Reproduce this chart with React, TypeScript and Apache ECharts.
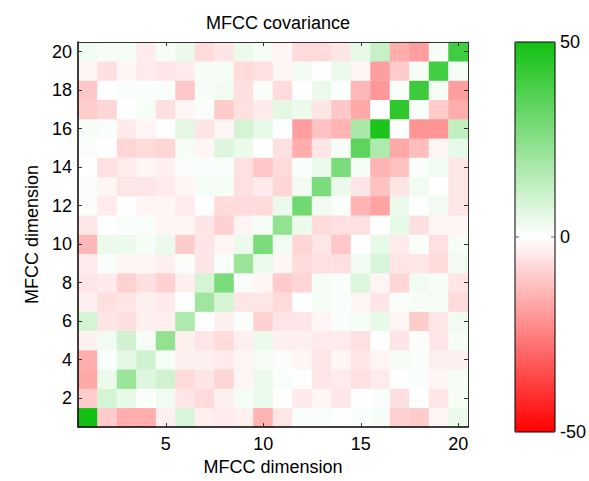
import React, { useEffect, useRef } from "react";
import * as echarts from "echarts";

// MFCC dimension labels (1..20)
const dims = Array.from({ length: 20 }, (_, i) => String(i + 1));

// Covariance rows, row k = MFCC dimension k (y), columns = dimension 1..20 (x)
const row01 = [50, -10, -16, -16, -3, 8, -3, -4, -3, -15, -5, 1, 1, 0, 1, 2, -9, -10, -2, 4];
const row02 = [-10, 9, 5, 1, 3, -5, -7, -3, 2, 4, 0, -4, -2, -5, 0, 1, -6, 0, -5, 2];
const row03 = [-17, 4, 21, 7, 10, -7, -5, -8, -2, 4, 1, 0, -5, -4, -6, -4, 0, 1, -2, 2];
const row04 = [-16, 1, 6, 10, 2, -3, -3, -4, -2, 2, 1, -2, -5, -2, -5, -2, 2, 1, -3, -3];
const row05 = [-3, 3, 10, 2, 23, -3, -5, -7, -3, 4, -3, -3, -4, -4, -6, 0, -5, 1, -5, 2];
const row06 = [9, -5, -6, -3, -3, 17, 0, -3, 1, -9, -5, -5, -2, 1, 2, 5, -2, -10, -5, 3];
const row07 = [-3, -6, -5, -3, -4, 0, 20, 9, -5, -5, -7, 0, 2, 1, -2, -5, 1, 2, 2, -7];
const row08 = [-5, -4, -9, -6, -9, -3, 9, 28, 1, -2, -10, -8, 2, 1, 7, -2, -8, 3, 2, -5];
const row09 = [-4, 1, -2, -2, -3, 1, -5, 1, 21, 4, -2, -7, -6, -6, 3, 8, -5, -5, -7, 3];
const row10 = [-14, 4, 4, 2, 4, -10, -5, -2, 4, 28, 3, -8, -5, -11, 0, 5, -4, 1, -6, 2];
const row11 = [-5, 0, 1, 1, -2, -2, -5, -9, -2, 2, 23, 4, -7, -6, -6, 0, 5, -6, -2, -2];
const row12 = [1, -4, 0, -2, -2, -4, 0, -7, -7, -7, 4, 30, 3, 1, -15, -18, 4, 0, 3, -5];
const row13 = [1, -2, -5, -5, -4, -2, 2, 2, -6, -4, -8, 3, 28, 4, -5, -12, -5, 3, 0, -5];
const row14 = [0, -6, -4, -2, -3, 1, 1, 1, -6, -11, -7, 1, 4, 28, 2, -15, -12, 1, 3, -5];
const row15 = [1, 0, -8, -7, -8, 2, -2, 7, 4, 0, -6, -16, -5, 2, 34, 17, -17, -13, -2, 5];
const row16 = [2, 1, -4, -2, 0, 6, -5, -2, 9, 5, 0, -19, -12, -15, 18, 48, 0, -21, -21, 13];
const row17 = [-10, -8, 0, 2, -6, -2, 1, -10, -6, -4, 6, 4, -5, -11, -17, 0, 44, 1, -10, -16];
const row18 = [-11, 0, 1, 1, 1, -11, 2, 3, -6, 1, -7, 0, 4, 1, -14, -20, 1, 41, 2, -19];
const row19 = [-2, -6, -2, -4, -5, -4, 2, 2, -7, -6, -2, 3, 0, 4, -2, -19, -10, 2, 40, 2];
const row20 = [3, 2, 2, -4, 2, 4, -7, -5, 4, 2, -2, -7, -7, -5, 5, 12, -16, -19, 2, 40];

const rows = [row01, row02, row03, row04, row05, row06, row07, row08, row09, row10,
  row11, row12, row13, row14, row15, row16, row17, row18, row19, row20];

const colorbarTicks = ["50", "0", "-50"];
const colorMin = -50;
const colorMax = 50;

const FONT = "'Liberation Sans', Arial, Helvetica, sans-serif";
const FS = 18;

export default function App() {
  const ref = useRef<HTMLDivElement>(null);
  useEffect(() => {
    document.body.style.margin = "0";
    const chart = echarts.init(ref.current!, undefined, { renderer: "svg" });
    const data: number[][] = [];
    rows.forEach((r, yi) => r.forEach((v, xi) => data.push([xi, yi, v])));

    const gl = 78, gt = 42, gw = 390, gh = 390;
    const cbX = 515, cbW = 40;

    const xTickInt = (i: number) => (i + 1) % 5 === 0;
    const yTickInt = (i: number) => (i + 1) % 2 === 0;

    const baseAxis = (pos: string, isX: boolean, primary: boolean) => ({
      type: "category",
      data: dims,
      position: pos,
      z: 10,
      boundaryGap: true,
      axisLine: { show: true, lineStyle: { color: primary ? "#000" : "#333", width: primary ? 1.5 : 1 } },
      axisTick: {
        show: true,
        inside: true,
        length: 4,
        alignWithLabel: true,
        interval: isX ? xTickInt : yTickInt,
        lineStyle: { color: "#333", width: 1 },
      },
      axisLabel: {
        show: primary,
        interval: isX ? xTickInt : yTickInt,
        color: "#000",
        fontSize: FS,
        fontFamily: FONT,
        margin: isX ? 8 : 6,
      },
      splitLine: { show: false },
    });

    chart.setOption({
      animation: false,
      backgroundColor: "#fff",
      title: {
        text: "MFCC covariance",
        left: gl + gw / 2,
        top: 9,
        textAlign: "center",
        textStyle: { fontSize: FS, fontWeight: "normal", color: "#000", fontFamily: FONT },
      },
      grid: { left: gl, top: gt, width: gw, height: gh, containLabel: false },
      xAxis: [
        {
          ...baseAxis("bottom", true, true),
          name: "MFCC dimension",
          nameLocation: "middle",
          nameGap: 30,
          nameTextStyle: { fontSize: FS, color: "#000", fontFamily: FONT },
        },
        { ...baseAxis("top", true, false) },
      ],
      yAxis: [
        {
          ...baseAxis("left", false, true),
          name: "MFCC dimension",
          nameLocation: "middle",
          nameGap: 34,
          nameTextStyle: { fontSize: FS, color: "#000", fontFamily: FONT },
        },
        { ...baseAxis("right", false, false) },
      ],
      visualMap: {
        type: "continuous",
        min: colorMin,
        max: colorMax,
        calculable: false,
        orient: "vertical",
        left: cbX,
        top: gt,
        itemWidth: cbW,
        itemHeight: gh,
        padding: 0,
        seriesIndex: 0,
        inRange: { color: ["#ff0000", "#ffffff", "#12c012"] },
        hoverLink: false,
      },
      graphic: [
        {
          type: "rect",
          shape: { x: cbX, y: gt, width: cbW, height: gh },
          style: { fill: "none", stroke: "#000", lineWidth: 1 },
          z: 100,
        },
        {
          type: "line",
          shape: { x1: cbX, y1: gt + gh / 2, x2: cbX + 4, y2: gt + gh / 2 },
          style: { stroke: "#666", lineWidth: 1 },
          z: 100,
        },
        {
          type: "line",
          shape: { x1: cbX + cbW - 4, y1: gt + gh / 2, x2: cbX + cbW, y2: gt + gh / 2 },
          style: { stroke: "#666", lineWidth: 1 },
          z: 100,
        },
        ...colorbarTicks.map((t, i) => ({
          type: "text",
          x: cbX + cbW + 5,
          y: gt + (gh / (colorbarTicks.length - 1)) * i,
          style: {
            text: t,
            fontSize: FS,
            fontFamily: FONT,
            fill: "#000",
            textAlign: "left",
            textVerticalAlign: "middle",
          },
          z: 100,
        })),
      ],
      series: [
        {
          type: "heatmap",
          xAxisIndex: 0,
          yAxisIndex: 0,
          data,
          itemStyle: { borderWidth: 0 },
          emphasis: { disabled: true },
        },
      ],
    });
    return () => chart.dispose();
  }, []);
  return <div ref={ref} style={{ width: 589, height: 481 }} />;
}
